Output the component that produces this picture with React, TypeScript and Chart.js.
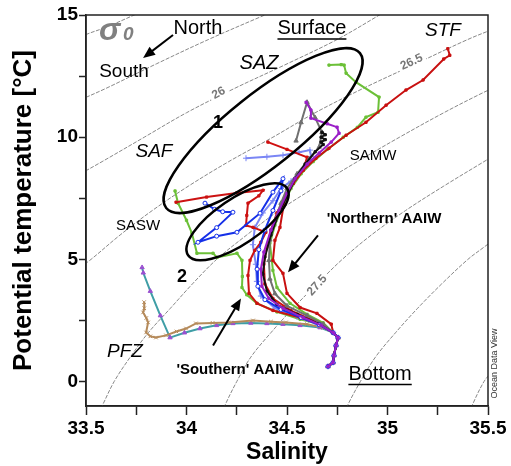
import React, { useEffect, useRef } from 'react';
import { Chart, registerables } from 'chart.js';

Chart.register(...registerables);

type P = [number, number];

const FONT = "'Liberation Sans', Arial, Helvetica, sans-serif";

// ---------- axis ----------
const xMin = 33.5, xMax = 35.5, xStep = 0.25;
const yMin = -1, yMax = 15, yStep = 2.5;
const xTickLabels = ['33.5', '34', '34.5', '35', '35.5'];
const yTickLabels = ['0', '5', '10', '15'];

// ---------- sigma-0 isopycnals (salinity, temperature) ----------
const sigma25_0: P[] = [[33.45, 13.98], [33.5, 14.2], [33.6, 14.5], [33.74, 15.0], [33.78, 15.15]];
const sigma25_5: P[] = [[33.45, 11.45], [33.6, 12.0], [33.85, 13.0], [34.11, 14.0], [34.39, 15.0], [34.45, 15.2]];
const sigma26_0: P[] = [[33.45, 8.4], [33.58, 9.0], [33.79, 10.0], [34.0, 11.0], [34.24, 12.0], [34.5, 13.0], [34.75, 14.0], [34.96, 15.0], [35.0, 15.2]];
const sigma26_5: P[] = [[33.45, 4.55], [33.525, 5.0], [33.67, 6.0], [33.83, 7.0], [34.01, 8.0], [34.21, 9.0], [34.43, 10.0], [34.64, 11.0], [34.88, 12.0], [35.14, 13.0], [35.4, 14.0], [35.55, 14.5]];
const sigma27_0: P[] = [[33.56, -1.3], [33.58, -1.0], [33.64, 0], [33.72, 1], [33.81, 2], [33.92, 3], [34.03, 4], [34.15, 5], [34.3, 6], [34.46, 7], [34.65, 8], [34.85, 9], [35.06, 10], [35.28, 11], [35.47, 11.8], [35.55, 12.1]];
const sigma27_5: P[] = [[34.18, -1.3], [34.19, -1], [34.25, 0], [34.32, 1], [34.42, 2], [34.53, 3], [34.65, 4], [34.775, 5], [34.92, 6], [35.09, 7], [35.28, 8], [35.48, 9], [35.55, 9.35]];
const sigma28_0: P[] = [[34.79, -1.3], [34.8, -1], [34.865, 0], [34.94, 1], [35.04, 2], [35.15, 3], [35.27, 4], [35.4, 5], [35.48, 5.5], [35.56, 6]];
const sigma28_5: P[] = [[35.41, -1.3], [35.42, -1], [35.48, 0], [35.52, 0.4]];

const contourLabels = ['26', '26.5', '27.5'];

// ---------- profiles (salinity, potential temperature) ----------
const deepTail: P[] = [[34.73, 2.0], [34.754, 1.8], [34.744, 1.48], [34.734, 1.07], [34.729, 0.78], [34.704, 0.62]];

const redSTF: P[] = [[35.3, 13.62], [35.31, 13.35], [35.28, 13.2], [35.177, 12.34], [35.092, 11.93], [34.993, 11.31], [34.893, 10.61], [34.794, 10.08], [34.709, 9.55], [34.644, 9.14], [34.58, 8.65], [34.53, 8.11], [34.49, 7.54], [34.465, 6.31], [34.44, 5.78], [34.43, 4.96], [34.48, 4.43], [34.5, 3.61], [34.565, 3.03], [34.649, 2.79], [34.72, 2.35]];
const redSASW: P[] = [[33.948, 7.34], [34.1, 7.55], [34.25, 7.72], [34.381, 7.83], [34.36, 7.6], [34.306, 7.3], [34.3, 6.8], [34.296, 6.39], [34.331, 6.31], [34.395, 6.11], [34.37, 5.7], [34.34, 5.37], [34.316, 4.96], [34.306, 4.34], [34.311, 3.61], [34.351, 3.2], [34.43, 2.91], [34.565, 2.62], [34.66, 2.35]];
const redSAZ: P[] = [[34.405, 9.8], [34.5, 9.5], [34.6, 9.18], [34.58, 8.65], [34.53, 8.11], [34.49, 7.5], [34.45, 6.9], [34.42, 6.2], [34.4, 5.5], [34.385, 4.8], [34.39, 4.0], [34.43, 3.4], [34.52, 2.9], [34.63, 2.5]];
const greenSAZ: P[] = [[34.709, 12.95], [34.77, 12.97], [34.784, 12.95], [34.794, 12.62], [34.843, 12.25], [34.958, 11.64], [34.953, 11.02], [34.893, 10.82], [34.85, 10.4], [34.78, 10.0], [34.7, 9.5], [34.63, 9.0], [34.57, 8.5], [34.52, 7.9], [34.48, 7.2], [34.44, 6.4], [34.415, 5.66], [34.43, 4.55], [34.45, 3.85], [34.515, 3.2], [34.6, 2.75], [34.68, 2.4]];
const greenSASW: P[] = [[33.943, 7.8], [33.958, 7.3], [34.0, 6.6], [34.027, 6.07], [34.052, 5.25], [34.132, 5.25], [34.152, 5.08], [34.251, 5.25], [34.276, 4.96], [34.278, 4.3], [34.276, 3.85], [34.3, 3.55], [34.35, 3.2], [34.45, 2.85], [34.565, 2.55], [34.66, 2.35]];
const blueSASW: P[] = [[34.092, 7.3], [34.14, 7.05], [34.18, 6.95], [34.231, 6.93], [34.15, 6.3], [34.057, 5.7], [34.15, 5.95], [34.251, 6.11], [34.366, 6.89], [34.43, 7.75], [34.48, 8.3], [34.47, 7.8], [34.43, 7.0], [34.39, 6.2], [34.36, 5.4], [34.351, 4.6], [34.355, 3.9], [34.39, 3.35], [34.47, 2.95], [34.57, 2.62], [34.66, 2.32]];
const lightBlue: P[] = [[34.296, 9.14], [34.4, 9.2], [34.48, 9.26], [34.56, 9.38], [34.614, 9.47], [34.62, 9.2], [34.58, 8.7], [34.52, 8.2], [34.47, 7.9], [34.43, 7.4], [34.38, 6.9], [34.34, 6.3], [34.33, 5.6], [34.345, 4.8], [34.35, 4.1], [34.37, 3.5], [34.44, 3.0], [34.55, 2.65], [34.65, 2.35]];
const purple: P[] = [[34.595, 11.43], [34.619, 11.11], [34.619, 10.78], [34.7, 10.55], [34.749, 10.41], [34.759, 10.16], [34.72, 9.8], [34.66, 9.35], [34.6, 8.9], [34.54, 8.3], [34.5, 7.7], [34.46, 7.0], [34.42, 6.2], [34.385, 5.3], [34.37, 4.6], [34.375, 3.9], [34.41, 3.4], [34.48, 3.0], [34.58, 2.62], [34.67, 2.3]];
const gray: P[] = [[34.545, 9.85], [34.57, 10.6], [34.6, 11.43], [34.64, 10.8], [34.674, 10.2], [34.66, 9.6], [34.61, 9.1], [34.55, 8.5], [34.5, 7.9], [34.47, 7.3], [34.44, 6.6], [34.415, 5.8], [34.41, 4.96], [34.415, 4.2], [34.44, 3.6], [34.5, 3.1], [34.6, 2.7], [34.68, 2.35]];
const black: P[] = [[34.674, 10.2], [34.69, 10.1], [34.67, 10.0], [34.69, 9.9], [34.67, 9.8], [34.68, 9.7], [34.64, 9.4], [34.59, 8.9], [34.54, 8.3], [34.5, 7.6], [34.46, 6.9], [34.42, 6.0], [34.39, 5.1], [34.38, 4.4], [34.4, 3.7], [34.45, 3.15], [34.55, 2.75], [34.66, 2.35]];
const brown: P[] = [[33.789, 3.25], [33.79, 3.0], [33.784, 2.83], [33.8, 2.6], [33.809, 2.42], [33.799, 2.01], [33.82, 1.85], [33.848, 1.8], [33.898, 1.89], [33.95, 2.05], [33.998, 2.17], [34.047, 2.38], [34.13, 2.4], [34.211, 2.42], [34.331, 2.5], [34.42, 2.45], [34.495, 2.42], [34.6, 2.35], [34.68, 2.2]];
const teal: P[] = [[33.779, 4.67], [33.785, 4.45], [33.82, 3.7], [33.87, 2.7], [33.918, 1.8], [33.99, 2.0], [34.067, 2.17], [34.15, 2.3], [34.231, 2.38], [34.32, 2.4], [34.4, 2.38], [34.48, 2.35], [34.565, 2.3], [34.664, 2.21]];

// ---------- annotations (data coordinates) ----------
const ellipses = [
  { cs: 34.381, ct: 10.27, tipS: 34.863, tipT: 13.44, ratio: 0.29 },
  { cs: 34.254, ct: 6.54, tipS: 34.5, tipT: 7.91, ratio: 0.38 },
];
const arrows = [
  { s1: 33.933, t1: 14.18, s2: 33.784, t2: 13.24 },
  { s1: 34.654, t1: 5.98, s2: 34.505, t2: 4.47 },
  { s1: 34.132, t1: 1.48, s2: 34.271, t2: 3.4 },
];
const texts = [
  { text: 'North', s: 34.057, t: 14.43, size: 20, style: '' },
  { text: 'South', s: 33.689, t: 12.66, size: 19, style: '' },
  { text: 'Surface', s: 34.624, t: 14.43, size: 20, style: '', underline: true },
  { text: 'STF', s: 35.276, t: 14.34, size: 19, style: 'italic' },
  { text: 'SAZ', s: 34.361, t: 13.03, size: 20, style: 'italic' },
  { text: '1', s: 34.157, t: 10.57, size: 18, style: 'bold' },
  { text: 'SAF', s: 33.838, t: 9.39, size: 19, style: 'italic' },
  { text: 'SAMW', s: 34.928, t: 9.22, size: 15, style: '' },
  { text: 'SASW', s: 33.759, t: 6.39, size: 15, style: '' },
  { text: "'Northern' AAIW", s: 34.983, t: 6.64, size: 15, style: 'bold' },
  { text: '2', s: 33.978, t: 4.26, size: 18, style: 'bold' },
  { text: "'Southern' AAIW", s: 34.241, t: 0.49, size: 15, style: 'bold' },
  { text: 'PFZ', s: 33.694, t: 1.23, size: 19, style: 'italic' },
  { text: 'Bottom', s: 34.963, t: 0.29, size: 20, style: '', underline: true },
];
const contourLabelPos = [
  { s: 34.16, t: 11.8, angle: -29 },
  { s: 35.12, t: 13.07, angle: -25 },
  { s: 34.65, t: 3.94, angle: -48 },
];

const toXY = (pts: P[]) => pts.map((p) => ({ x: p[0], y: p[1] }));

function drawArrow(ctx: CanvasRenderingContext2D, x1: number, y1: number, x2: number, y2: number) {
  const ang = Math.atan2(y2 - y1, x2 - x1);
  const head = 12;
  const w = 5;
  ctx.beginPath();
  ctx.moveTo(x1, y1);
  ctx.lineTo(x2 - Math.cos(ang) * head * 0.8, y2 - Math.sin(ang) * head * 0.8);
  ctx.stroke();
  ctx.beginPath();
  ctx.moveTo(x2, y2);
  ctx.lineTo(x2 - head * Math.cos(ang) + w * Math.sin(ang), y2 - head * Math.sin(ang) - w * Math.cos(ang));
  ctx.lineTo(x2 - head * Math.cos(ang) - w * Math.sin(ang), y2 - head * Math.sin(ang) + w * Math.cos(ang));
  ctx.closePath();
  ctx.fill();
}

const annotPlugin = {
  id: 'tsAnnot',
  afterDatasetDraw(chart: any, args: any) {
    const ds = chart.data.datasets[args.index];
    if (!ds || !ds.labelsAfter) return;
    const ctx: CanvasRenderingContext2D = chart.ctx;
    const xs = chart.scales.x, ys = chart.scales.y;
    ctx.save();
    ctx.font = `bold 12px ${FONT}`;
    ctx.textAlign = 'center';
    ctx.textBaseline = 'middle';
    contourLabelPos.forEach((c, i) => {
      const x = xs.getPixelForValue(c.s);
      const y = ys.getPixelForValue(c.t);
      ctx.save();
      ctx.translate(x, y);
      ctx.rotate((c.angle * Math.PI) / 180);
      const w = ctx.measureText(contourLabels[i]).width;
      ctx.fillStyle = '#fff';
      ctx.fillRect(-w / 2 - 3, -6, w + 6, 12);
      ctx.fillStyle = '#777';
      ctx.fillText(contourLabels[i], 0, 0);
      ctx.restore();
    });
    ctx.restore();
  },
  afterDatasetsDraw(chart: any) {
    const ctx: CanvasRenderingContext2D = chart.ctx;
    const xs = chart.scales.x, ys = chart.scales.y;
    const px = (v: number) => xs.getPixelForValue(v);
    const py = (v: number) => ys.getPixelForValue(v);
    const area = chart.chartArea;
    ctx.save();
    // frame
    ctx.strokeStyle = '#222';
    ctx.lineWidth = 1.5;
    ctx.strokeRect(area.left, area.top, area.right - area.left, area.bottom - area.top);
    // ellipses
    ctx.lineWidth = 2.5;
    ctx.strokeStyle = '#000';
    ellipses.forEach((e) => {
      const cx = px(e.cs), cy = py(e.ct);
      const tx = px(e.tipS), ty = py(e.tipT);
      const a = Math.hypot(tx - cx, ty - cy);
      const ang = Math.atan2(ty - cy, tx - cx);
      ctx.beginPath();
      ctx.ellipse(cx, cy, a, a * e.ratio, ang, 0, Math.PI * 2);
      ctx.stroke();
    });
    // arrows
    ctx.lineWidth = 2;
    ctx.fillStyle = '#000';
    arrows.forEach((a) => drawArrow(ctx, px(a.s1), py(a.t1), px(a.s2), py(a.t2)));
    // texts
    ctx.textAlign = 'center';
    ctx.textBaseline = 'middle';
    ctx.fillStyle = '#000';
    texts.forEach((t) => {
      ctx.font = `${t.style} ${t.size}px ${FONT}`;
      const x = px(t.s), y = py(t.t);
      ctx.fillText(t.text, x, y);
      if (t.underline) {
        const w = ctx.measureText(t.text).width;
        ctx.lineWidth = 1.5;
        ctx.beginPath();
        ctx.moveTo(x - w / 2, y + t.size * 0.5);
        ctx.lineTo(x + w / 2, y + t.size * 0.5);
        ctx.stroke();
      }
    });
    // sigma-0 symbol
    ctx.fillStyle = '#808080';
    ctx.textAlign = 'left';
    ctx.textBaseline = 'alphabetic';
    ctx.font = `italic bold 32px ${FONT}`;
    ctx.fillText('σ', px(33.565), py(13.98));
    ctx.font = `italic bold 19px ${FONT}`;
    ctx.fillText('0', px(33.684), py(13.98));
    // Ocean Data View stamp
    ctx.save();
    ctx.translate(area.right + 7, py(0.74));
    ctx.rotate(-Math.PI / 2);
    ctx.textAlign = 'center';
    ctx.textBaseline = 'middle';
    ctx.fillStyle = '#333';
    ctx.font = `9px ${FONT}`;
    ctx.fillText('Ocean Data View', 0, 0);
    ctx.restore();
    ctx.restore();
  },
};

function profile(label: string, pts: P[], color: string, extra: any = {}) {
  return {
    label,
    data: toXY(pts.concat(deepTail)),
    showLine: true,
    borderColor: color,
    backgroundColor: color,
    borderWidth: 2,
    pointRadius: 1.6,
    pointStyle: 'rect',
    pointBorderWidth: 1,
    tension: 0,
    ...extra,
  };
}

function contour(label: string, pts: P[], extra: any = {}) {
  return {
    label,
    data: toXY(pts),
    showLine: true,
    borderColor: '#7a7a7a',
    borderWidth: 0.9,
    borderDash: [4, 1.5],
    pointRadius: 0,
    tension: 0.35,
    ...extra,
  };
}

export default function App() {
  const canvasRef = useRef<HTMLCanvasElement | null>(null);

  useEffect(() => {
    document.body.style.margin = '0';
    const canvas = canvasRef.current;
    if (!canvas) return;

    const datasets: any[] = [
      profile('purple', purple, '#9a1fc8'),
      profile('blue', blueSASW, '#1530e8', { pointStyle: 'circle', pointRadius: 2, pointBackgroundColor: '#fff' }),
      profile('black', black, '#111111'),
      profile('gray', gray, '#707070', { pointStyle: 'triangle', pointRadius: 2.5 }),
      profile('redSASW', redSASW, '#cc1212'),
      profile('redSAZ', redSAZ, '#d01010'),
      profile('redSTF', redSTF, '#c81010'),
      profile('lightBlue', lightBlue, '#7a86f5', { pointStyle: 'cross', pointRadius: 3 }),
      profile('greenSASW', greenSASW, '#6cc038'),
      profile('greenSAZ', greenSAZ, '#6cc038'),
      profile('brown', brown, '#b58a5a', { pointStyle: 'crossRot', pointRadius: 2.5 }),
      profile('teal', teal, '#3f9ea6', { pointStyle: 'triangle', pointRadius: 2.5, pointBackgroundColor: '#9a50d0', pointBorderColor: '#9a50d0' }),
      contour('25.0', sigma25_0, { labelsAfter: true }),
      contour('25.5', sigma25_5),
      contour('26.0', sigma26_0),
      contour('26.5', sigma26_5),
      contour('27.0', sigma27_0),
      contour('27.5', sigma27_5),
      contour('28.0', sigma28_0),
      contour('28.5', sigma28_5),
    ];

    const tickFont = { family: FONT, size: 19, weight: 'bold' as const };

    const chart = new Chart(canvas, {
      type: 'scatter',
      data: { datasets },
      plugins: [annotPlugin],
      options: {
        animation: false,
        responsive: false,
        devicePixelRatio: 1,
        layout: { padding: { top: 15, right: 23, left: 0, bottom: 0 } },
        plugins: { legend: { display: false }, tooltip: { enabled: false } },
        scales: {
          x: {
            type: 'linear',
            min: xMin,
            max: xMax,
            afterFit: (scale: any) => { scale.height = 60; },
            afterBuildTicks: (scale: any) => {
              scale.ticks = scale.ticks.filter((t: any) => Math.abs(t.value / xStep - Math.round(t.value / xStep)) < 1e-6);
            },
            ticks: {
              stepSize: xStep,
              autoSkip: false,
              maxRotation: 0,
              padding: 2,
              color: '#000',
              font: tickFont,
              callback: (v: any) => {
                const idx = Math.round((Number(v) - xMin) / 0.5);
                return Math.abs((Number(v) - xMin) / 0.5 - idx) < 1e-6 ? xTickLabels[idx] : '';
              },
            },
            grid: { drawOnChartArea: false, drawTicks: true, tickLength: 9, tickColor: '#222', tickWidth: 1.5 },
            border: { display: true, color: '#222', width: 1.5 },
            title: { display: true, text: 'Salinity', color: '#000', font: { family: FONT, size: 23, weight: 'bold' }, padding: { top: 0, bottom: 0 } },
          },
          y: {
            type: 'linear',
            min: yMin,
            max: yMax,
            afterFit: (scale: any) => { scale.width = 86; },
            afterBuildTicks: (scale: any) => {
              scale.ticks = scale.ticks.filter((t: any) => t.value >= 0 && Math.abs(t.value / yStep - Math.round(t.value / yStep)) < 1e-6);
            },
            ticks: {
              stepSize: yStep,
              autoSkip: false,
              padding: 1,
              color: '#000',
              font: tickFont,
              callback: (v: any) => {
                const idx = Math.round(Number(v) / 5);
                return Math.abs(Number(v) / 5 - idx) < 1e-6 ? yTickLabels[idx] : '';
              },
            },
            grid: { drawOnChartArea: false, drawTicks: true, tickLength: 7, tickColor: '#222', tickWidth: 1.5 },
            border: { display: true, color: '#222', width: 1.5 },
            title: { display: true, text: 'Potential temperature [°C]', color: '#000', font: { family: FONT, size: 26, weight: 'bold' }, padding: { top: 8, bottom: 0 } },
          },
        },
      } as any,
    });

    return () => chart.destroy();
  }, []);

  return (
    <div style={{ width: 511, height: 466 }}>
      <canvas ref={canvasRef} width={511} height={466} style={{ display: 'block' }} />
    </div>
  );
}
